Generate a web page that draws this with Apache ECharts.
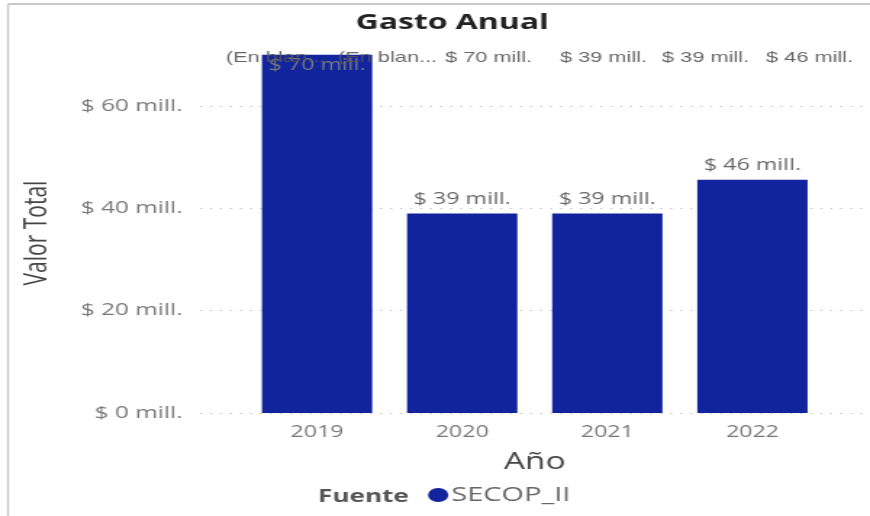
<!DOCTYPE html>
<html>
<head>
<meta charset="utf-8">
<script src="https://cdn.jsdelivr.net/npm/echarts@6/dist/echarts.min.js"></script>
<style>
html,body{margin:0;padding:0;background:#fff;overflow:hidden;}
#chart{width:600px;height:516px;transform:scaleX(1.45);transform-origin:0 0;}
</style>
</head>
<body>
<div id="chart"></div>
<script>
// ---- data ----
var categories = ['2019', '2020', '2021', '2022'];
var valores = [70, 39, 39, 45.6];
var yTicks = [0, 20, 40, 60];
var headerLabels = ['(En blan...', '(En blan...', '$ 70 mill.', '$ 39 mill.', '$ 39 mill.', '$ 46 mill.'];
var seriesName = 'SECOP_II';

// ---- layout (page is 600px wide, stretched horizontally to 870px) ----
var S = 1.45;
function px(x) { return x / S; }
var headerX = [226, 338, 445, 560, 662, 766];
var fmt = function (v) { return '$ ' + Math.round(v) + ' mill.'; };
var FONT = '"Open Sans",sans-serif';
var chart = echarts.init(document.getElementById('chart'));

var top0 = 413 - 80 * (307 / 60);
var gridH = 413 - top0;

var barData = valores.map(function (v, i) {
  if (i === 0) {
    return { value: v, label: { position: 'insideTop', distance: 3, color: '#7a7a7a' } };
  }
  return v;
});

var graphics = [
  { type: 'line', shape: { x1: px(8), y1: 4, x2: 600, y2: 4 }, style: { stroke: '#c8c8c8', lineWidth: 2 }, silent: true },
  { type: 'line', shape: { x1: px(8), y1: 4, x2: px(8), y2: 516 }, style: { stroke: '#c8c8c8', lineWidth: 1.4 }, silent: true },
  { type: 'text', x: px(37), y: 233, rotation: Math.PI / 2,
    style: { text: 'Valor Total', fill: '#444', font: '21px ' + FONT, textAlign: 'center', textVerticalAlign: 'middle' } },
  { type: 'text', x: px(318), y: 497,
    style: { text: 'Fuente', fill: '#555', font: 'bold 18px ' + FONT, textAlign: 'left', textVerticalAlign: 'middle' } }
];
headerLabels.forEach(function (t, i) {
  graphics.push({ type: 'text', x: px(headerX[i]), y: 58, z: 100,
    style: { text: t, fill: '#555', font: '15px "Liberation Sans",Arial,sans-serif', textAlign: 'left', textVerticalAlign: 'middle', opacity: 0.9 } });
});

var option = {
  animation: false,
  title: {
    text: 'Gasto Anual', left: px(445), top: 7, textAlign: 'center',
    textStyle: { fontSize: 22, fontWeight: 'bold', color: '#222', fontFamily: FONT }
  },
  legend: {
    data: [seriesName], left: px(428), top: 485, padding: 0, icon: 'circle', itemWidth: 14, itemHeight: 14, itemGap: 4,
    textStyle: { fontSize: 20, color: '#666', fontFamily: FONT, padding: [0, 0, 0, -3] }
  },
  grid: [
    { left: px(200), right: 600 - px(865), top: top0, height: gridH },
    { left: px(244.5), right: 600 - px(825), top: top0, height: gridH }
  ],
  xAxis: [
    { type: 'category', gridIndex: 0, show: false, data: categories },
    { type: 'category', gridIndex: 1, data: categories,
      axisLine: { show: false }, axisTick: { show: false },
      axisLabel: { fontSize: 16, color: '#777', margin: 11, fontFamily: FONT },
      name: 'Año', nameLocation: 'middle', nameGap: 38,
      nameTextStyle: { fontSize: 23, color: '#444', fontFamily: FONT } }
  ],
  yAxis: [
    { type: 'value', gridIndex: 0, min: 0, max: 80, interval: 20,
      axisLine: { show: false }, axisTick: { show: false },
      axisLabel: { showMaxLabel: false, margin: 12, fontSize: 16.8, color: '#777', fontFamily: FONT,
        formatter: function (v) { return yTicks.indexOf(v) >= 0 ? fmt(v) : ''; } },
      splitLine: { show: true, showMaxLine: false, lineStyle: { color: '#c4c4c4', type: [1.4, 5.5], width: 1 } } },
    { type: 'value', gridIndex: 1, min: 0, max: 80, show: false, splitLine: { show: false } }
  ],
  series: [{
    name: seriesName, type: 'bar', xAxisIndex: 1, yAxisIndex: 1,
    data: barData, barCategoryGap: '24%',
    itemStyle: { color: '#12239E' },
    label: { show: true, position: 'top', distance: 6, fontSize: 16, color: '#666',
      fontFamily: FONT, formatter: function (p) { return fmt(p.value); } }
  }],
  graphic: graphics
};
chart.setOption(option);
</script>
</body>
</html>
